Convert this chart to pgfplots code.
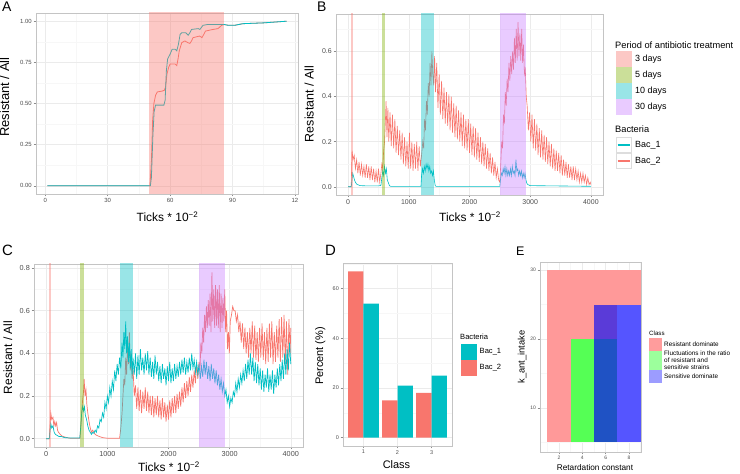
\documentclass[border=0pt]{standalone}
\usepackage{fontspec}
\setmainfont{Liberation Sans}
\usepackage{pgfplots}
\pgfplotsset{compat=1.18}
\definecolor{bacone}{HTML}{00BFC4}
\definecolor{bactwo}{HTML}{F8766D}
\definecolor{dthree}{HTML}{F8766D}
\definecolor{dfive}{HTML}{7CAE00}
\definecolor{dten}{HTML}{00BFC4}
\definecolor{dthirty}{HTML}{C77CFF}
\definecolor{gmaj}{HTML}{EBEBEB}
\definecolor{gmin}{HTML}{F7F7F7}
\definecolor{border}{HTML}{C4C4C4}
\definecolor{keyb}{HTML}{DDDDDD}
\definecolor{tickc}{HTML}{8C8C8C}
\definecolor{tlab}{HTML}{4D4D4D}
\definecolor{tpink}{HTML}{FF9999}
\definecolor{tgreen}{HTML}{55FF55}
\definecolor{tdblue}{HTML}{1F52C4}
\definecolor{tpurple}{HTML}{5A3BD8}
\definecolor{tblue}{HTML}{5555FF}
\definecolor{kpink}{HTML}{FF9C9C}
\definecolor{kgreen}{HTML}{9CFF9C}
\definecolor{kblue}{HTML}{9C9CFF}
\pgfplotsset{
  gg/.style={
    scale only axis,
    anchor=south west,
    axis line style={draw=border, line width=0.6bp},
    grid=both,
    major grid style={draw=gmaj, line width=0.5bp},
    minor grid style={draw=gmin, line width=0.4bp},
    tick align=outside,
    xtick pos=bottom, ytick pos=left,
    major tick length=2.5bp, minor tick length=0pt,
    tick style={draw=tickc, line width=0.5bp},
    ticklabel style={text=tlab},
    /pgf/number format/assume math mode=true,
    /pgf/number format/1000 sep={},
    xticklabel style={inner sep=1.5bp},
    yticklabel style={inner sep=1.5bp},
  },
}
\begin{document}
\begin{tikzpicture}[x=1bp,y=1bp]
\path[use as bounding box] (0,0) rectangle (740,474);

% ---------------- A ----------------
\begin{axis}[gg, at={(36bp,280bp)}, width=262bp, height=181bp,
  xmin=-4.5, xmax=121.5, ymin=-0.05, ymax=1.05,
  xtick={0,30,60,90,120}, xticklabels={0,30,60,90,12},
  minor xtick={15,45,75,105},
  ytick={0,0.25,0.5,0.75,1}, yticklabels={0.00,0.25,0.50,0.75,1.00},
  minor ytick={0.125,0.375,0.625,0.875},
  ticklabel style={font=\fontsize{6}{6}\selectfont}]
\addplot[bactwo, line width=0.8bp] coordinates {
(1,0)(50.3,0)(51,0.15)(51.6,0.4)(52.2,0.5)(53,0.55)(53.8,0.57)(56,0.575)(57.2,0.58)(57.8,0.6)(58.5,0.68)(59.3,0.72)(60,0.74)(62.4,0.74)(63.2,0.73)(63.8,0.77)(64.4,0.82)(65.6,0.87)(67.1,0.88)(68.5,0.87)(69.5,0.865)(70.3,0.88)(71,0.9)(74.2,0.91)(75.3,0.9)(76.2,0.92)(77,0.94)(80.6,0.95)(83,0.955)(84.8,0.975)(86,0.98)(88,0.975)(91,0.975)(95,0.985)(105,0.99)(116,1.0)};
\addplot[bacone, line width=0.8bp] coordinates {
(1,0)(50.5,0)(51,0.05)(51.7,0.3)(52.3,0.45)(53,0.49)(57,0.49)(57.6,0.52)(58.2,0.7)(58.8,0.77)(60,0.8)(61,0.83)(62.4,0.83)(63.2,0.82)(64,0.86)(64.8,0.92)(65.6,0.93)(67.5,0.93)(68.7,0.915)(69.5,0.93)(70.3,0.95)(73.5,0.955)(74.3,0.95)(75.8,0.975)(78,0.98)(86,0.98)(88,0.975)(91,0.975)(95,0.985)(105,0.99)(116,1.0)};
\addplot[draw=none, fill=dthree, fill opacity=0.4] coordinates {(50,-1)(86,-1)(86,2)(50,2)};
\end{axis}

% ---------------- B ----------------
\begin{axis}[gg, at={(336bp,279bp)}, width=267bp, height=181bp,
  xmin=-200, xmax=4200, ymin=-0.0365, ymax=0.7665,
  xtick={0,1000,2000,3000,4000}, xticklabels={0,1000,2000,3000,4000},
  minor xtick={500,1500,2500,3500},
  ytick={0,0.2,0.4,0.6}, yticklabels={0.0,0.2,0.4,0.6},
  minor ytick={0.1,0.3,0.5,0.7},
  ticklabel style={font=\fontsize{7}{7}\selectfont}]
\addplot[bactwo, line width=0.6bp] coordinates {
(0,0)(25,0)(50,0)(65,0.16)(80,0.12)(100,0.14)(120,0.08)(140,0.12)(160,0.06)(180,0.11)(200,0.05)(220,0.1)(240,0.05)(260,0.09)(280,0.04)(300,0.1)(320,0.04)(340,0.09)(360,0.03)(380,0.09)(400,0.03)(420,0.08)(440,0.02)(460,0.07)(480,0.02)(500,0.08)(520,0.02)(540,0.06)(555,0.1)(570,0.08)(585,0.16)(600,0.2)(615,0.3)(625,0.38)(640,0.22)(655,0.35)(670,0.2)(690,0.33)(710,0.18)(730,0.32)(750,0.17)(770,0.3)(790,0.15)(810,0.27)(830,0.14)(850,0.25)(870,0.12)(890,0.24)(910,0.1)(930,0.22)(950,0.09)(970,0.2)(990,0.08)(1010,0.24)(1030,0.08)(1050,0.2)(1070,0.07)(1090,0.19)(1110,0.08)(1130,0.2)(1150,0.07)(1170,0.18)(1190,0.09)(1210,0.14)(1230,0.2)(1245,0.17)(1260,0.3)(1275,0.25)(1290,0.38)(1305,0.32)(1320,0.46)(1335,0.4)(1350,0.55)(1365,0.45)(1380,0.6)(1395,0.5)(1410,0.45)(1425,0.58)(1440,0.42)(1460,0.55)(1480,0.35)(1500,0.5)(1520,0.32)(1540,0.47)(1560,0.3)(1580,0.44)(1600,0.28)(1620,0.42)(1640,0.27)(1660,0.41)(1680,0.25)(1700,0.4)(1720,0.24)(1740,0.37)(1760,0.22)(1780,0.36)(1800,0.21)(1820,0.34)(1840,0.2)(1860,0.33)(1880,0.18)(1900,0.32)(1920,0.17)(1940,0.3)(1960,0.16)(1980,0.3)(2000,0.15)(2020,0.28)(2040,0.14)(2060,0.27)(2080,0.13)(2100,0.26)(2120,0.12)(2140,0.24)(2160,0.11)(2180,0.22)(2200,0.1)(2220,0.2)(2240,0.09)(2260,0.19)(2280,0.08)(2300,0.17)(2320,0.07)(2340,0.15)(2360,0.06)(2380,0.13)(2400,0.05)(2420,0.11)(2440,0.04)(2460,0.08)(2480,0.03)(2500,0.02)(2515,0.1)(2530,0.2)(2545,0.17)(2560,0.32)(2575,0.28)(2590,0.42)(2605,0.36)(2620,0.48)(2635,0.42)(2650,0.55)(2665,0.47)(2680,0.58)(2695,0.5)(2710,0.6)(2725,0.52)(2740,0.66)(2755,0.55)(2770,0.7)(2785,0.56)(2800,0.73)(2815,0.58)(2830,0.68)(2845,0.56)(2860,0.7)(2875,0.55)(2890,0.63)(2905,0.5)(2920,0.52)(2935,0.4)(2950,0.36)(2970,0.25)(2990,0.33)(3010,0.2)(3030,0.32)(3050,0.17)(3070,0.3)(3090,0.16)(3110,0.28)(3130,0.14)(3150,0.26)(3170,0.13)(3190,0.25)(3210,0.12)(3230,0.23)(3250,0.11)(3270,0.22)(3290,0.1)(3310,0.2)(3330,0.09)(3350,0.19)(3370,0.08)(3390,0.17)(3410,0.07)(3430,0.16)(3450,0.07)(3470,0.15)(3490,0.06)(3510,0.14)(3530,0.05)(3550,0.12)(3570,0.05)(3590,0.11)(3610,0.04)(3630,0.1)(3650,0.04)(3670,0.09)(3690,0.03)(3710,0.09)(3730,0.03)(3750,0.08)(3770,0.03)(3790,0.07)(3810,0.02)(3830,0.06)(3850,0.02)(3870,0.06)(3890,0.02)(3910,0.05)(3930,0.01)(3950,0.04)(3970,0.01)(3990,0.02)(4000,0.01)};
\addplot[bacone, line width=0.6bp] coordinates {
(0,0)(50,0)(60,0.02)(75,0.06)(90,0.045)(105,0.03)(120,0.02)(140,0.012)(170,0.008)(200,0.005)(300,0.004)(400,0.004)(500,0.004)(540,0.006)(555,0.04)(570,0.07)(585,0.05)(600,0.09)(615,0.06)(630,0.08)(645,0.03)(660,0.02)(680,0.005)(700,0.002)(1200,0.002)(1210,0.05)(1225,0.08)(1240,0.06)(1255,0.09)(1270,0.07)(1285,0.1)(1300,0.08)(1315,0.1)(1330,0.07)(1345,0.09)(1360,0.06)(1375,0.07)(1390,0.05)(1405,0.07)(1420,0.03)(1435,0.005)(1450,0.002)(2500,0.002)(2510,0.03)(2525,0.06)(2540,0.05)(2555,0.08)(2570,0.06)(2585,0.09)(2600,0.05)(2615,0.08)(2630,0.05)(2645,0.07)(2660,0.05)(2675,0.08)(2690,0.05)(2705,0.09)(2720,0.06)(2735,0.07)(2750,0.05)(2765,0.12)(2780,0.07)(2795,0.08)(2810,0.05)(2825,0.07)(2840,0.05)(2855,0.07)(2870,0.04)(2885,0.06)(2900,0.04)(2915,0.06)(2930,0.03)(2945,0.015)(2960,0.01)(3000,0.005)(4000,0.002)};
\addplot[draw=none, fill=dthree, fill opacity=0.4] coordinates {(50,-1)(86,-1)(86,2)(50,2)};
\addplot[draw=none, fill=dfive, fill opacity=0.4] coordinates {(552,-1)(612,-1)(612,2)(552,2)};
\addplot[draw=none, fill=dten, fill opacity=0.4] coordinates {(1200,-1)(1410,-1)(1410,2)(1200,2)};
\addplot[draw=none, fill=dthirty, fill opacity=0.4] coordinates {(2500,-1)(2925,-1)(2925,2)(2500,2)};
\end{axis}

% ---------------- C ----------------
\begin{axis}[gg, at={(34bp,27bp)}, width=269bp, height=183bp,
  xmin=-200, xmax=4200, ymin=-0.039, ymax=0.819,
  xtick={0,1000,2000,3000,4000}, xticklabels={0,1000,2000,3000,4000},
  minor xtick={500,1500,2500,3500},
  ytick={0,0.2,0.4,0.6,0.8}, yticklabels={0.0,0.2,0.4,0.6,0.8},
  minor ytick={0.1,0.3,0.5,0.7},
  ticklabel style={font=\fontsize{7.3}{7.3}\selectfont}]
\addplot[bactwo, line width=0.7bp] coordinates {
(0,0)(50,0)(60,0.05)(75,0.12)(90,0.09)(110,0.1)(125,0.06)(140,0.08)(155,0.06)(170,0.075)(185,0.04)(200,0.03)(230,0.02)(260,0.012)(300,0.008)(350,0.004)(400,0.002)(550,0.002)(565,0.05)(580,0.12)(595,0.18)(610,0.22)(620,0.28)(635,0.2)(650,0.23)(665,0.16)(680,0.12)(700,0.08)(720,0.05)(740,0.03)(760,0.04)(780,0.03)(800,0.02)(830,0.015)(870,0.01)(920,0.005)(1000,0.002)(1200,0.002)(1220,0.05)(1240,0.12)(1255,0.2)(1270,0.28)(1285,0.25)(1300,0.38)(1315,0.3)(1330,0.44)(1345,0.35)(1360,0.5)(1375,0.32)(1390,0.4)(1405,0.28)(1420,0.33)(1440,0.2)(1460,0.25)(1480,0.14)(1500,0.24)(1520,0.13)(1540,0.23)(1560,0.12)(1580,0.22)(1600,0.14)(1620,0.24)(1640,0.13)(1660,0.22)(1680,0.12)(1700,0.2)(1720,0.11)(1740,0.2)(1760,0.1)(1780,0.19)(1800,0.11)(1820,0.2)(1840,0.1)(1860,0.18)(1880,0.09)(1900,0.19)(1920,0.1)(1940,0.17)(1960,0.08)(1980,0.16)(2000,0.09)(2020,0.18)(2040,0.1)(2060,0.19)(2080,0.12)(2100,0.2)(2120,0.12)(2140,0.21)(2160,0.14)(2180,0.22)(2200,0.15)(2220,0.24)(2240,0.17)(2260,0.26)(2280,0.19)(2300,0.27)(2320,0.2)(2340,0.29)(2360,0.22)(2380,0.3)(2400,0.24)(2420,0.32)(2440,0.26)(2460,0.35)(2480,0.28)(2500,0.36)(2515,0.32)(2530,0.45)(2545,0.4)(2560,0.52)(2575,0.45)(2590,0.58)(2605,0.5)(2620,0.62)(2635,0.52)(2650,0.65)(2665,0.53)(2680,0.68)(2695,0.5)(2710,0.78)(2725,0.55)(2740,0.7)(2755,0.52)(2770,0.72)(2785,0.53)(2800,0.7)(2815,0.52)(2830,0.72)(2845,0.5)(2860,0.68)(2875,0.52)(2890,0.66)(2905,0.55)(2920,0.7)(2935,0.5)(2950,0.6)(2965,0.42)(2980,0.5)(2995,0.4)(3010,0.55)(3030,0.58)(3050,0.62)(3070,0.6)(3090,0.6)(3110,0.55)(3130,0.58)(3150,0.5)(3170,0.55)(3190,0.45)(3210,0.54)(3230,0.42)(3250,0.52)(3270,0.4)(3290,0.5)(3310,0.38)(3330,0.52)(3350,0.4)(3370,0.55)(3390,0.38)(3410,0.53)(3430,0.37)(3450,0.5)(3470,0.36)(3490,0.52)(3510,0.38)(3530,0.54)(3550,0.37)(3570,0.5)(3590,0.35)(3610,0.52)(3630,0.36)(3650,0.54)(3670,0.38)(3690,0.55)(3710,0.35)(3730,0.5)(3750,0.36)(3770,0.53)(3790,0.38)(3810,0.56)(3830,0.36)(3850,0.57)(3870,0.38)(3890,0.58)(3910,0.35)(3930,0.55)(3950,0.3)(3970,0.56)(3990,0.4)(4000,0.52)};
\addplot[bacone, line width=0.7bp] coordinates {
(0,0)(50,0)(60,0.03)(75,0.07)(90,0.05)(110,0.06)(130,0.03)(150,0.02)(180,0.015)(210,0.01)(250,0.01)(300,0.005)(400,0.003)(550,0.003)(565,0.06)(580,0.12)(595,0.15)(610,0.13)(625,0.15)(640,0.11)(660,0.09)(680,0.06)(700,0.04)(720,0.03)(740,0.02)(760,0.03)(780,0.025)(800,0.04)(820,0.03)(840,0.06)(860,0.05)(880,0.09)(900,0.08)(920,0.12)(940,0.1)(960,0.17)(980,0.14)(1000,0.2)(1020,0.17)(1040,0.24)(1060,0.2)(1080,0.27)(1100,0.23)(1120,0.32)(1140,0.27)(1160,0.35)(1180,0.3)(1200,0.38)(1220,0.33)(1240,0.45)(1255,0.38)(1270,0.5)(1285,0.42)(1300,0.55)(1315,0.4)(1330,0.48)(1345,0.36)(1360,0.45)(1375,0.33)(1390,0.42)(1405,0.3)(1420,0.38)(1440,0.3)(1460,0.4)(1480,0.28)(1500,0.39)(1520,0.3)(1540,0.42)(1560,0.32)(1580,0.38)(1600,0.3)(1620,0.4)(1640,0.32)(1660,0.41)(1680,0.3)(1700,0.38)(1720,0.29)(1740,0.36)(1760,0.28)(1780,0.39)(1800,0.3)(1820,0.36)(1840,0.27)(1860,0.34)(1880,0.26)(1900,0.35)(1920,0.28)(1940,0.33)(1960,0.25)(1980,0.34)(2000,0.27)(2020,0.36)(2040,0.26)(2060,0.33)(2080,0.27)(2100,0.35)(2120,0.28)(2140,0.34)(2160,0.29)(2180,0.36)(2200,0.3)(2220,0.37)(2240,0.31)(2260,0.38)(2280,0.3)(2300,0.36)(2320,0.31)(2340,0.38)(2360,0.32)(2380,0.4)(2400,0.33)(2420,0.37)(2440,0.31)(2460,0.36)(2480,0.3)(2500,0.35)(2520,0.28)(2540,0.34)(2560,0.29)(2580,0.37)(2600,0.3)(2620,0.36)(2640,0.28)(2660,0.34)(2680,0.27)(2700,0.35)(2720,0.28)(2740,0.33)(2760,0.26)(2780,0.32)(2800,0.25)(2820,0.3)(2840,0.23)(2860,0.28)(2880,0.22)(2900,0.26)(2920,0.2)(2940,0.23)(2960,0.17)(2980,0.2)(3000,0.15)(3020,0.19)(3040,0.17)(3060,0.22)(3080,0.2)(3100,0.26)(3120,0.22)(3140,0.28)(3160,0.24)(3180,0.3)(3200,0.26)(3220,0.32)(3240,0.27)(3260,0.35)(3280,0.28)(3300,0.37)(3320,0.3)(3340,0.4)(3360,0.3)(3380,0.38)(3400,0.27)(3420,0.36)(3440,0.26)(3460,0.35)(3480,0.25)(3500,0.33)(3520,0.23)(3540,0.32)(3560,0.22)(3580,0.3)(3600,0.24)(3620,0.33)(3640,0.22)(3660,0.3)(3680,0.23)(3700,0.32)(3720,0.21)(3740,0.3)(3760,0.24)(3780,0.33)(3800,0.25)(3820,0.35)(3840,0.27)(3860,0.37)(3880,0.28)(3900,0.4)(3920,0.3)(3940,0.42)(3960,0.32)(3980,0.45)(4000,0.35)};
\addplot[draw=none, fill=dthree, fill opacity=0.4] coordinates {(50,-1)(86,-1)(86,2)(50,2)};
\addplot[draw=none, fill=dfive, fill opacity=0.4] coordinates {(558,-1)(618,-1)(618,2)(558,2)};
\addplot[draw=none, fill=dten, fill opacity=0.4] coordinates {(1205,-1)(1415,-1)(1415,2)(1205,2)};
\addplot[draw=none, fill=dthirty, fill opacity=0.4] coordinates {(2505,-1)(2930,-1)(2930,2)(2505,2)};
\end{axis}

% ---------------- D ----------------
\begin{axis}[gg, at={(343bp,28bp)}, width=109bp, height=183bp,
  xmin=0.4, xmax=3.6, ymin=-3.35, ymax=70.35,
  xtick={1,2,3}, xticklabels={1,2,3},
  ytick={0,20,40,60}, yticklabels={0,20,40,60},
  minor ytick={10,30,50,70},
  ticklabel style={font=\fontsize{5.5}{5.5}\selectfont}]
\addplot[ybar, bar width=0.45, bar shift=-0.225, fill=bactwo, draw=none] coordinates {(1,67)(2,15)(3,18)};
\addplot[ybar, bar width=0.45, bar shift=0.225, fill=bacone, draw=none] coordinates {(1,54)(2,21)(3,25)};
\end{axis}

% ---------------- E ----------------
\begin{axis}[gg, at={(540bp,22bp)}, width=101bp, height=190bp,
  xmin=0.37, xmax=9.03, ymin=3.6, ymax=31.2,
  xtick={2,4,6,8}, xticklabels={2,4,6,8},
  minor xtick={1,3,5,7,9},
  ytick={10,20,30}, yticklabels={10,20,30},
  minor ytick={5,15,25},
  ticklabel style={font=\fontsize{5}{5}\selectfont}]
\addplot[draw=none, fill=tpink] coordinates {(1,5)(9,5)(9,30)(1,30)};
\addplot[draw=none, fill=tgreen] coordinates {(3,5)(5,5)(5,20)(3,20)};
\addplot[draw=none, fill=tdblue] coordinates {(5,5)(7,5)(7,20)(5,20)};
\addplot[draw=none, fill=tpurple] coordinates {(5,20)(7,20)(7,25)(5,25)};
\addplot[draw=none, fill=tblue] coordinates {(7,5)(9,5)(9,25)(7,25)};
\end{axis}

% ---------------- panel letters ----------------
\node[anchor=north west, inner sep=0, font=\fontsize{14}{14}\selectfont] at (2,472) {A};
\node[anchor=north west, inner sep=0, font=\fontsize{14}{14}\selectfont] at (317,472) {B};
\node[anchor=north west, inner sep=0, font=\fontsize{15}{15}\selectfont] at (2,229) {C};
\node[anchor=north west, inner sep=0, font=\fontsize{15}{15}\selectfont] at (325,229) {D};
\node[anchor=north west, inner sep=0, font=\fontsize{12.5}{12.5}\selectfont] at (516,227) {E};

% ---------------- axis titles ----------------
\node[rotate=90, anchor=base, inner sep=0, font=\fontsize{13}{13}\selectfont] at (9,377) {Resistant / All};
\node[anchor=base, inner sep=0, font=\fontsize{12}{12}\selectfont] at (167.5,252) {Ticks * 10\textsuperscript{−2}};
\node[rotate=90, anchor=base, inner sep=0, font=\fontsize{12.5}{12.5}\selectfont] at (313.5,370) {Resistant / All};
\node[anchor=base, inner sep=0, font=\fontsize{12}{12}\selectfont] at (470,252) {Ticks * 10\textsuperscript{−2}};
\node[rotate=90, anchor=base, inner sep=0, font=\fontsize{12}{12}\selectfont] at (12,116.5) {Resistant / All};
\node[anchor=base, inner sep=0, font=\fontsize{12}{12}\selectfont] at (169,2.6) {Ticks * 10\textsuperscript{−2}};
\node[rotate=90, anchor=base, inner sep=0, font=\fontsize{11}{11}\selectfont] at (323,118) {Percent (\%)};
\node[anchor=base, inner sep=0, font=\fontsize{11}{11}\selectfont] at (396.5,5) {Class};
\node[rotate=90, anchor=base, inner sep=0, font=\fontsize{9.4}{9.4}\selectfont] at (524.5,117) {k\_ant\_intake};
\node[anchor=base, inner sep=0, font=\fontsize{8.3}{8.3}\selectfont] at (595,3.5) {Retardation constant};

% ---------------- legend B ----------------
\node[anchor=base west, inner sep=0, font=\fontsize{9.3}{9.3}\selectfont] at (615,425.5) {Period of antibiotic treatment};
\fill[dthree!40] (616,423) rectangle (632,407);
\fill[dfive!40] (616,407) rectangle (632,391);
\fill[dten!40] (616,391) rectangle (632,375);
\fill[dthirty!40] (616,375) rectangle (632,358.5);
\node[anchor=west, inner sep=0, font=\fontsize{9}{9}\selectfont] at (635,415) {3 days};
\node[anchor=west, inner sep=0, font=\fontsize{9}{9}\selectfont] at (635,399) {5 days};
\node[anchor=west, inner sep=0, font=\fontsize{9}{9}\selectfont] at (635,383) {10 days};
\node[anchor=west, inner sep=0, font=\fontsize{9}{9}\selectfont] at (635,366.5) {30 days};
\node[anchor=base west, inner sep=0, font=\fontsize{9.3}{9.3}\selectfont] at (615,341) {Bacteria};
\draw[draw=keyb, line width=0.6bp] (616.3,336.7) rectangle (631.7,321.3);
\draw[draw=keyb, line width=0.6bp] (616.3,320.7) rectangle (631.7,305.3);
\draw[draw=bacone, line width=1.1bp] (617.6,329) -- (630.4,329);
\draw[draw=bactwo, line width=1.1bp] (617.6,313) -- (630.4,313);
\node[anchor=west, inner sep=0, font=\fontsize{9}{9}\selectfont] at (635,329) {Bac\_1};
\node[anchor=west, inner sep=0, font=\fontsize{9}{9}\selectfont] at (635,313) {Bac\_2};

% ---------------- legend D ----------------
\node[anchor=base west, inner sep=0, font=\fontsize{7.6}{7.6}\selectfont] at (460,134) {Bacteria};
\fill[bacone] (461,130) rectangle (477,114);
\fill[bactwo] (461,114) rectangle (477,98);
\node[anchor=west, inner sep=0, font=\fontsize{7.6}{7.6}\selectfont] at (479.5,122) {Bac\_1};
\node[anchor=west, inner sep=0, font=\fontsize{7.6}{7.6}\selectfont] at (479.5,106) {Bac\_2};

% ---------------- legend E ----------------
\node[anchor=base west, inner sep=0, font=\fontsize{6.2}{6.2}\selectfont] at (649,138.5) {Class};
\fill[kpink] (649,136) rectangle (662,123);
\fill[kgreen] (649,123) rectangle (662,104);
\fill[kblue] (649,104) rectangle (662,91);
\node[anchor=west, inner sep=0, font=\fontsize{6.4}{6.4}\selectfont] at (664,129.5) {Resistant dominate};
\node[anchor=west, inner sep=0, align=left, font=\fontsize{6.4}{7.1}\selectfont] at (664,113.5) {Fluctuations in the ratio\\of resistant and\\sensitive strains};
\node[anchor=west, inner sep=0, font=\fontsize{6.4}{6.4}\selectfont] at (664,97.5) {Sensitive dominate};
\end{tikzpicture}
\end{document}
